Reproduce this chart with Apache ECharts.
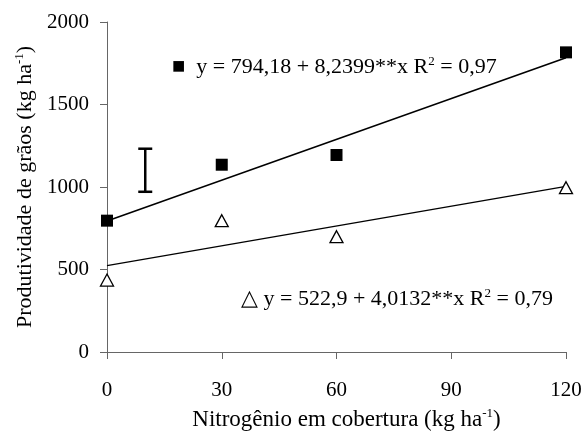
<!DOCTYPE html>
<html>
<head>
<meta charset="utf-8">
<script src="https://cdn.jsdelivr.net/npm/echarts@6/dist/echarts.min.js"></script>
<style>
  html, body { margin: 0; padding: 0; background: #fff; }
  #chart { width: 586px; height: 440px; }
</style>
</head>
<body>
<div id="chart"></div>
<script>
const doses = [0, 30, 60, 120];
const xTicks = [0, 30, 60, 90, 120];
const comAdubo = [796, 1135, 1194, 1816];
const semAdubo = [436, 796, 699, 996];
// regression lines, read at x = 0 and x = 120
const fitX = [0, 120];
const fitCom = [794, 1783];
const fitSem = [523, 1004];
// LSD bar
const barX = 10;
const barRange = [971, 1232];

const font = 'Liberation Serif, Times New Roman, serif';
const sup = { fontFamily: font, fontSize: 13, color: '#000', verticalAlign: 'top', padding: [0, 0, 12, 0] };
const tick = { fontFamily: font, fontSize: 21, color: '#000' };
const title = { fontFamily: font, fontSize: 22, color: '#000' };

const chart = echarts.init(document.getElementById('chart'));

chart.setOption({
  animation: false,
  backgroundColor: '#fff',
  grid: { left: 107, right: 20, top: 22, bottom: 88 },
  xAxis: {
    type: 'value',
    min: 0,
    max: 120,
    interval: 30,
    name: 'Nitrogênio em cobertura (kg ha{s|-1})',
    nameLocation: 'middle',
    nameGap: 55,
    nameTextStyle: { ...title, fontSize: 23, padding: [0, 0, 0, 20], rich: { s: sup } },
    axisLine: { lineStyle: { color: '#666', width: 1 } },
    axisTick: { show: true, length: 7, lineStyle: { color: '#666' } },
    axisLabel: { ...tick, margin: 28, formatter: v => (xTicks.includes(v) ? String(v) : '') },
    splitLine: { show: false }
  },
  yAxis: {
    type: 'value',
    min: 0,
    max: 2000,
    interval: 500,
    name: 'Produtividade de grãos (kg ha{s|-1})',
    nameLocation: 'middle',
    nameGap: 59,
    nameTextStyle: { ...title, rich: { s: sup } },
    axisLine: { show: true, lineStyle: { color: '#666', width: 1 } },
    axisTick: { show: true, length: 7, lineStyle: { color: '#666' } },
    axisLabel: { ...tick, margin: 18, formatter: v => String(v) },
    splitLine: { show: false }
  },
  series: [
    {
      type: 'line',
      data: fitX.map((x, i) => [x, fitCom[i]]),
      showSymbol: false,
      lineStyle: { color: '#000', width: 1.5 },
      z: 1
    },
    {
      type: 'line',
      data: fitX.map((x, i) => [x, fitSem[i]]),
      showSymbol: false,
      lineStyle: { color: '#000', width: 1.2 },
      z: 1
    },
    {
      type: 'scatter',
      data: doses.map((x, i) => [x, comAdubo[i]]),
      symbol: 'rect',
      symbolSize: 12,
      itemStyle: { color: '#000', opacity: 1 },
      z: 3
    },
    {
      type: 'scatter',
      data: doses.map((x, i) => [x, semAdubo[i]]),
      symbol: 'triangle',
      symbolSize: [13, 12],
      itemStyle: { color: '#fff', borderColor: '#000', borderWidth: 1.3, opacity: 1 },
      z: 3
    },
    {
      type: 'custom',
      data: [[barX, barRange[0], barRange[1]]],
      renderItem: (params, api) => {
        const lo = api.coord([api.value(0), api.value(1)]);
        const hi = api.coord([api.value(0), api.value(2)]);
        const w = 7;
        const style = { stroke: '#000', lineWidth: 2.5 };
        return {
          type: 'group',
          children: [
            { type: 'line', shape: { x1: lo[0], y1: lo[1], x2: hi[0], y2: hi[1] }, style },
            { type: 'line', shape: { x1: lo[0] - w, y1: lo[1], x2: lo[0] + w, y2: lo[1] }, style },
            { type: 'line', shape: { x1: hi[0] - w, y1: hi[1], x2: hi[0] + w, y2: hi[1] }, style }
          ]
        };
      },
      z: 2
    }
  ],
  graphic: [
    {
      type: 'text',
      left: 172,
      top: 55,
      style: {
        text: '■  y = 794,18 + 8,2399**x R{s|2} = 0,97',
        font: '22px ' + font,
        fill: '#000',
        rich: { s: { ...sup } }
      }
    },
    {
      type: 'text',
      left: 241,
      top: 287,
      style: {
        text: '△ y = 522,9 + 4,0132**x R{s|2} = 0,79',
        font: '22px ' + font,
        fill: '#000',
        rich: { s: { ...sup } }
      }
    }
  ]
});
</script>
</body>
</html>
